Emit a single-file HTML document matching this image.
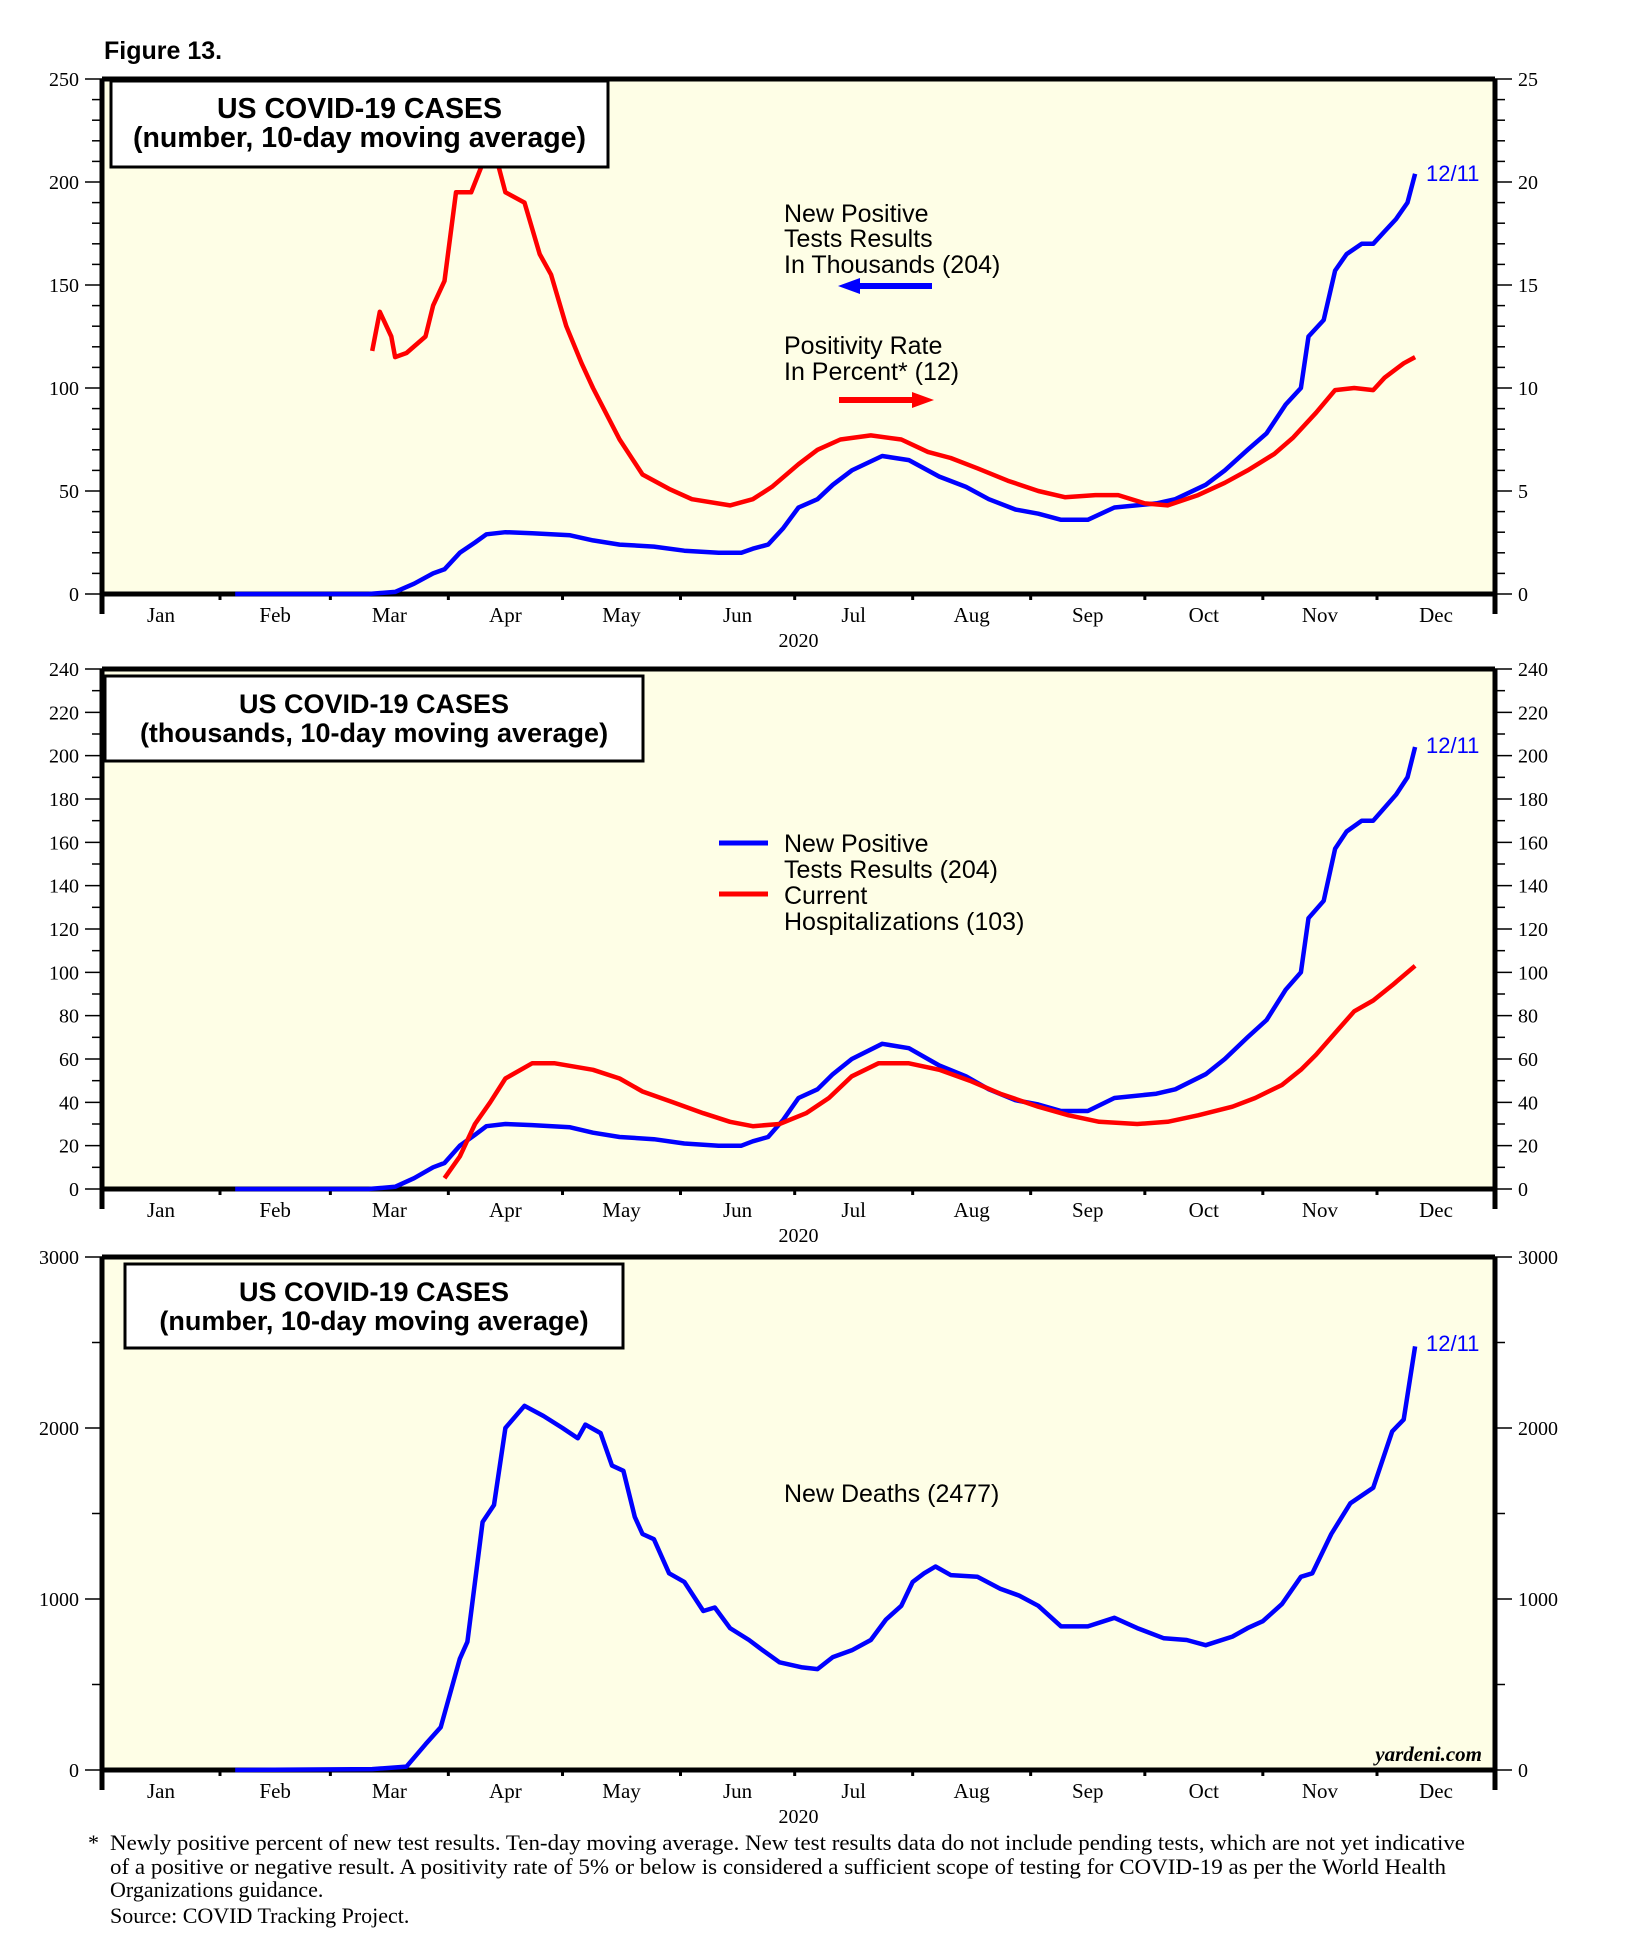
<!DOCTYPE html>
<html><head><meta charset="utf-8">
<style>
body{margin:0;background:#fff;}
svg{display:block;}
.s{font-family:"Liberation Serif",serif;}
.a{font-family:"Liberation Sans",sans-serif;}
</style></head>
<body>
<svg id="fig" width="1627" height="1941" viewBox="0 0 1627 1941" xmlns="http://www.w3.org/2000/svg">
<text x="104" y="59" class="a" font-size="25" font-weight="bold">Figure 13.</text>
<g id="p1"></g>
<g id="p2"></g>
<g id="p3"></g>
<g class="s" font-size="22">
<text x="88" y="1850">*</text>
<text x="110" y="1850" textLength="1355" lengthAdjust="spacingAndGlyphs">Newly positive percent of new test results. Ten-day moving average. New test results data do not include pending tests, which are not yet indicative</text>
<text x="110" y="1874" textLength="1336" lengthAdjust="spacingAndGlyphs">of a positive or negative result. A positivity rate of 5% or below is considered a sufficient scope of testing for COVID-19 as per the World Health</text>
<text x="110" y="1897">Organizations guidance.</text>
<text x="110" y="1923">Source: COVID Tracking Project.</text>
</g>
</svg>
<script>
// x = day of year 2020
const posDays = [35,70,77,82,87,90,94,98,101,106,113,123,129,136,145,153,162,168,171,175,179,183,188,192,197,205,212,220,227,233,240,246,252,259,266,277,282,290,295,301,306,311,315,317,321,324,327,331,334,337,340,343,345];
const posVals = [0,0,1,5,10,12,20,25,29,30,29.5,28.5,26,24,23,21,20,20,22,24,32,42,46,53,60,67,65,57,52,46,41,39,36,36,42,44,46,53,60,70,78,92,100,125,133,157,165,170,170,176,182,190,204];
const rateDays = [71,73,76,77,80,85,87,90,93,97,100,104,106,111,115,118,122,126,129,136,142,149,155,165,171,176,183,188,194,202,210,217,223,230,238,246,253,261,267,274,280,288,295,301,308,313,319,324,329,334,337,342,345];
const rateVals = [11.8,13.7,12.5,11.5,11.7,12.5,14,15.2,19.5,19.5,20.9,20.9,19.5,19,16.5,15.5,13,11.2,10,7.5,5.8,5.1,4.6,4.3,4.6,5.2,6.3,7.0,7.5,7.7,7.5,6.9,6.6,6.1,5.5,5.0,4.7,4.8,4.8,4.4,4.3,4.8,5.4,6.0,6.8,7.6,8.8,9.9,10.0,9.9,10.5,11.2,11.5];
const hospDays = [90,94,98,102,106,113,119,129,136,142,150,158,165,171,178,185,191,197,204,212,220,228,236,246,254,262,272,280,288,297,303,310,315,319,324,329,334,339,345];
const hospVals = [5,15,30,40,51,58,58,55,51,45,40,35,31,29,30,35,42,52,58,58,55,50,44,38,34,31,30,31,34,38,42,48,55,62,72,82,87,94,103];
const deathDays = [35,71,80,85,89,94,96,100,103,106,111,116,121,125,127,131,134,137,140,142,145,149,153,158,161,165,170,173,178,184,188,192,197,202,206,210,213,216,219,223,230,236,241,246,252,259,266,272,279,285,290,297,301,305,310,315,318,323,328,334,339,342,345];
const deathVals = [0,5,20,150,250,650,750,1450,1550,2000,2130,2070,2000,1940,2020,1970,1780,1750,1480,1380,1350,1150,1100,930,950,830,760,710,630,600,590,660,700,760,880,960,1100,1150,1190,1140,1130,1060,1020,960,840,840,890,830,770,760,730,780,830,870,970,1130,1150,1380,1560,1650,1980,2050,2477];
const months = ["Jan","Feb","Mar","Apr","May","Jun","Jul","Aug","Sep","Oct","Nov","Dec"];
const monthStart = [0,31,60,91,121,152,182,213,244,274,305,335,366];

const NS="http://www.w3.org/2000/svg";
const X0=102, X1=1495;
function xs(d){return X0+(d/366)*(X1-X0);}
function mk(parent,tag,attrs,txt){const e=document.createElementNS(NS,tag);for(const k in attrs)e.setAttribute(k,attrs[k]);if(txt!==undefined)e.textContent=txt;parent.appendChild(e);return e;}

function panel(id,top,bot,lmax,lstep,lminor,rmax,rstep,rminor){
  const g=document.getElementById(id);
  const ys=v=>bot-(v/lmax)*(bot-top);
  const yr=v=>bot-(v/rmax)*(bot-top);
  const bg=mk(g,'rect',{x:X0,y:top,width:X1-X0,height:bot-top,fill:'#fefee6'});
  
  
  for(let v=0;v<=lmax+1e-9;v+=lminor){const maj=Math.abs(v/lstep-Math.round(v/lstep))<1e-6;
    mk(g,'line',{x1:maj?85:92,x2:X0,y1:ys(v),y2:ys(v),stroke:'#000','stroke-width':1.5});
    if(maj){const t=mk(g,'text',{x:79,y:ys(v)+7,'text-anchor':'end',class:'s','font-size':20},String(v));
      
      }}
  for(let v=0;v<=rmax+1e-9;v+=rminor){const maj=Math.abs(v/rstep-Math.round(v/rstep))<1e-6;
    mk(g,'line',{x1:X1,x2:maj?1512:1505,y1:yr(v),y2:yr(v),stroke:'#000','stroke-width':1.5});
    if(maj){const t=mk(g,'text',{x:1518,y:yr(v)+7,class:'s','font-size':20},String(v));
      
      }}
  for(let i=0;i<12;i++){
    mk(g,'line',{x1:xs(monthStart[i]),x2:xs(monthStart[i]),y1:bot,y2:bot+6,stroke:'#000','stroke-width':3});
    const t=mk(g,'text',{x:xs((monthStart[i]+monthStart[i+1])/2),y:bot+28,'text-anchor':'middle',class:'s','font-size':21},months[i]);
    
    }
  const yl=mk(g,'text',{x:xs(183),y:bot+53,'text-anchor':'middle',class:'s','font-size':20},'2020');
  
  
  mk(g,'line',{x1:X0,x2:X0,y1:top,y2:bot+20,stroke:'#000','stroke-width':5});
  mk(g,'line',{x1:X1,x2:X1,y1:top,y2:bot+20,stroke:'#000','stroke-width':5});
  mk(g,'line',{x1:X0,x2:X1,y1:top,y2:top,stroke:'#000','stroke-width':5});
  mk(g,'line',{x1:X0,x2:X1,y1:bot,y2:bot,stroke:'#000','stroke-width':5});
  return {g,ys,yr};
}
function series(g,days,vals,yfn,color,name){
  const pts=days.map((d,i)=>xs(d).toFixed(1)+','+yfn(vals[i]).toFixed(1)).join(' ');
  const p=mk(g,'polyline',{points:pts,fill:'none',stroke:color,'stroke-width':4.5,'stroke-linejoin':'round'});
  
  
}
function titleBox(g,x,y,w,h,l1,l2,fs){
  const r=mk(g,'rect',{x:x,y:y,width:w,height:h,fill:'#fff',stroke:'#000','stroke-width':3});
  
  
  mk(g,'text',{x:x+w/2,y:y+37,'text-anchor':'middle',class:'a','font-size':fs,'font-weight':'bold'},l1);
  mk(g,'text',{x:x+w/2,y:y+66,'text-anchor':'middle',class:'a','font-size':fs,'font-weight':'bold'},l2);
}
function txt(g,x,y,s,name,extra){const t=mk(g,'text',Object.assign({x:x,y:y,class:'a','font-size':25},extra||{}),s);
  
  }

// Panel 1
const P1=panel('p1',79,594,250,50,10,25,5,1);
series(P1.g,posDays,posVals,P1.ys,'#0000ff','positive-tests-line');
series(P1.g,rateDays,rateVals,P1.yr,'#ff0000','positivity-rate-line');
titleBox(P1.g,111,81,497,86,'US COVID-19 CASES','(number, 10-day moving average)',28.5);
txt(P1.g,784,222,'New Positive','annotation-positive');
txt(P1.g,784,247,'Tests Results','annotation-positive');
txt(P1.g,784,273,'In Thousands (204)','annotation-positive');
txt(P1.g,784,354,'Positivity Rate','annotation-rate');
txt(P1.g,784,380,'In Percent* (12)','annotation-rate');
mk(P1.g,'line',{x1:856,x2:932,y1:286,y2:286,stroke:'#0000ff','stroke-width':6});
mk(P1.g,'polygon',{points:'838,286 860,278 860,294',fill:'#0000ff'});
mk(P1.g,'line',{x1:839,x2:916,y1:400,y2:400,stroke:'#ff0000','stroke-width':6});
mk(P1.g,'polygon',{points:'934,400 912,392 912,408',fill:'#ff0000'});
txt(P1.g,1426,181,'12/11','end-date-label',{fill:'#0000ff','font-size':22});

// Panel 2
const P2=panel('p2',669,1189,240,20,10,240,20,10);
series(P2.g,posDays,posVals,P2.ys,'#0000ff','positive-tests-line');
series(P2.g,hospDays,hospVals,P2.ys,'#ff0000','hospitalizations-line');
titleBox(P2.g,105,676,538,85,'US COVID-19 CASES','(thousands, 10-day moving average)',27);
mk(P2.g,'line',{x1:719,x2:768,y1:843,y2:843,stroke:'#0000ff','stroke-width':5});
mk(P2.g,'line',{x1:719,x2:768,y1:894,y2:894,stroke:'#ff0000','stroke-width':5});
txt(P2.g,784,852,'New Positive','legend-positive');
txt(P2.g,784,878,'Tests Results (204)','legend-positive');
txt(P2.g,784,904,'Current','legend-hospitalizations');
txt(P2.g,784,930,'Hospitalizations (103)','legend-hospitalizations');
txt(P2.g,1426,753,'12/11','end-date-label',{fill:'#0000ff','font-size':22});

// Panel 3
const P3=panel('p3',1257,1770,3000,1000,500,3000,1000,500);
series(P3.g,deathDays,deathVals,P3.ys,'#0000ff','deaths-line');
titleBox(P3.g,125,1264,498,84,'US COVID-19 CASES','(number, 10-day moving average)',27);
txt(P3.g,784,1502,'New Deaths (2477)','annotation-deaths');
txt(P3.g,1426,1351,'12/11','end-date-label',{fill:'#0000ff','font-size':22});
const yd=mk(P3.g,'text',{x:1482,y:1761,'text-anchor':'end',class:'s','font-size':21,'font-weight':'bold','font-style':'italic'},'yardeni.com');


</script>
</body></html>
